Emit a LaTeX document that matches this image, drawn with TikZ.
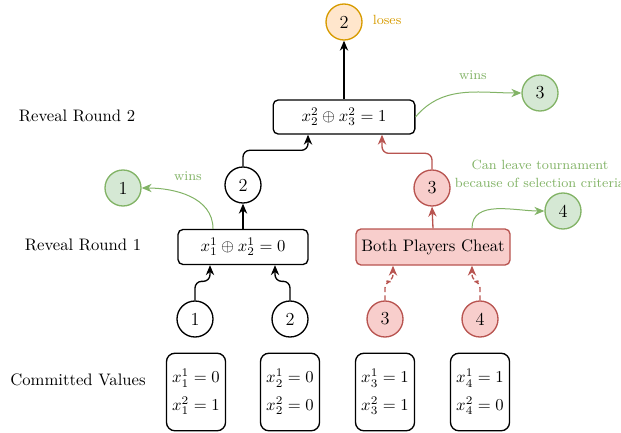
\documentclass[tikz,border=0pt]{standalone}
\usetikzlibrary{arrows.meta}
\definecolor{gfill}{HTML}{D5E8D4}
\definecolor{gdraw}{HTML}{82B366}
\definecolor{rfill}{HTML}{F8CECC}
\definecolor{rdraw}{HTML}{B85450}
\definecolor{ofill}{HTML}{FFE6CC}
\definecolor{odraw}{HTML}{D79B00}
\begin{document}
\begin{tikzpicture}[x=0.6pt,y=-0.6pt,
  circ/.style={circle, draw, line width=0.8pt, minimum size=21.6pt, inner sep=0pt, font=\fontsize{11}{13}\selectfont},
  gcirc/.style={circ, draw=gdraw, fill=gfill},
  rcirc/.style={circ, draw=rdraw, fill=rfill},
  ocirc/.style={circ, draw=odraw, fill=ofill},
  box/.style={draw, rounded corners=3pt, line width=0.8pt, inner sep=2pt},
  arr/.style={-{Stealth[length=6pt,width=5pt]}, line width=0.8pt, rounded corners=4pt},
  garr/.style={-{Stealth[length=6pt,width=5pt]}, line width=0.6pt, draw=gdraw},
  rarr/.style={arr, draw=rdraw},
  gtext/.style={text=gdraw, font=\footnotesize},
]
\useasboundingbox (0,0) rectangle (621,433);

% labels
\node (lr2) at (77,116) {Reveal Round 2};
\node (lr1) at (83,245) {Reveal Round 1};
\node (lcv) at (78,380) {Committed Values};

% top
\node[ocirc] (top) at (344,22) {2};
\node[text=odraw, font=\footnotesize, anchor=west] (loses) at (367,20) {loses};
\node[box, minimum width=85pt, minimum height=20.4pt] (tb) at (344,117) {$x_2^2 \oplus x_3^2 = 1$};
\node[gcirc] (w3) at (540,93) {3};
\node[gtext] (wins2) at (473,75) {wins};

% round 1 left
\node[circ] (c2) at (243,185) {2};
\node[gcirc] (w1) at (123,188) {1};
\node[gtext] (wins1) at (188,176) {wins};
\node[box, minimum width=78pt, minimum height=21pt] (b1) at (243,247) {$x_1^1 \oplus x_2^1 = 0$};

% round 1 right
\node[rcirc] (r3) at (432,188) {3};
\node[box, draw=rdraw, fill=rfill, minimum width=92.4pt, minimum height=21.6pt] (cheat) at (433,247) {Both Players Cheat};
\node[gcirc] (w4) at (563,211) {4};
\node[gtext, align=center] (leave) at (540,174) {Can leave tournament\\[1.5pt]because of selection criteria};

% bottom circles
\node[circ] (p1) at (195,319) {1};
\node[circ] (p2) at (290,319) {2};
\node[rcirc] (p3) at (385,319) {3};
\node[rcirc] (p4) at (480,319) {4};

% committed values
\foreach \x/\i/\a/\b in {196/1/0/1, 290/2/0/0, 385/3/1/1, 480/4/1/0}{
  \node[box, rounded corners=5pt, minimum width=35.4pt, minimum height=46.5pt, align=left, inner sep=1pt] (cv\i) at (\x,392)
    {$x_{\i}^1 = \a$\\[4.5pt]$x_{\i}^2 = \b$};
}

% connectors
\draw[arr] (tb.north) -- (top.south);
\draw[garr] (tb.east) to[out=50,in=180] (w3.west);
\draw[arr] (c2.north) -- ++(0,-16) -| ([xshift=-21.6pt]tb.south);
\draw[rarr] (r3.north) -- ++(0,-16) -| ([xshift=22.8pt]tb.south);
\draw[arr] (b1.north) -- (c2.south);
\draw[garr] ([xshift=-18pt]b1.north) to[out=90,in=0] (w1.east);
\draw[rarr] (cheat.north) -- (r3.south);
\draw[garr] ([xshift=23.4pt]cheat.north) to[out=90,in=180] (w4.west);
\draw[arr] (p1.north) -- ++(0,-19) -| ([xshift=-19.8pt]b1.south);
\draw[arr] (p2.north) -- ++(0,-19) -| ([xshift=19.2pt]b1.south);
\draw[rarr, dash pattern=on 3pt off 2pt] (p3.north) -- ++(0,-19) -| ([xshift=-24pt]cheat.south);
\draw[rarr, dash pattern=on 3pt off 2pt] (p4.north) -- ++(0,-19) -| ([xshift=23.4pt]cheat.south);
\end{tikzpicture}
\end{document}
